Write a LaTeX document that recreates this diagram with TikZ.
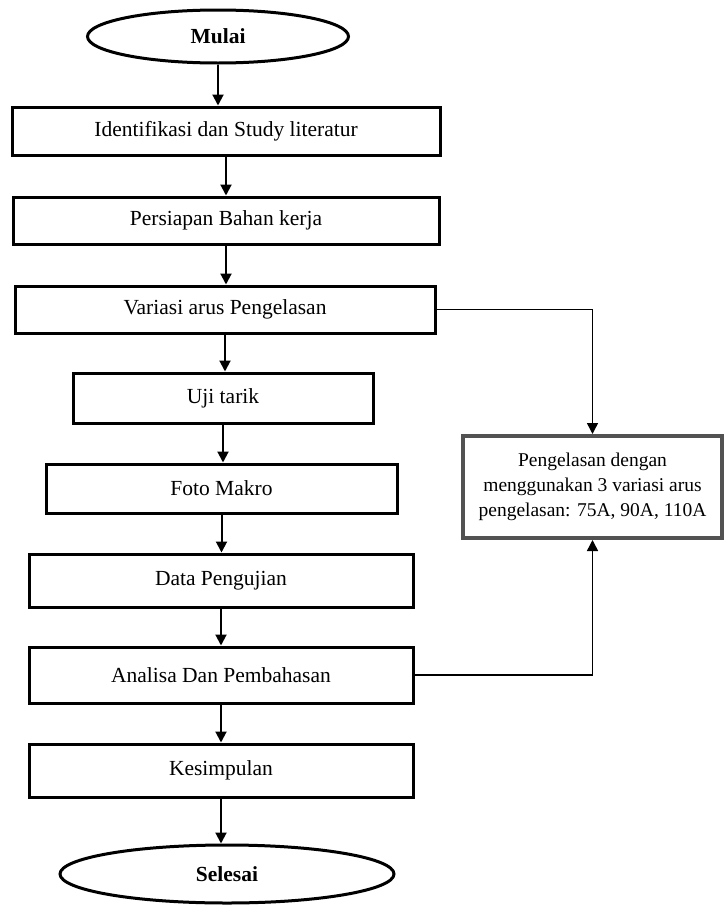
\documentclass[tikz,border=0pt]{standalone}
\usepackage{fontspec}
\setmainfont{Liberation Serif}
\usetikzlibrary{arrows.meta,shapes.geometric}
\begin{document}
\begin{tikzpicture}[x=1pt,y=-1pt,
  stepbox/.style={draw=black,line width=3pt,rectangle,inner sep=0pt,font=\fontsize{21.5}{26}\selectfont},
  term/.style={draw=black,line width=3pt,ellipse,inner sep=0pt,font=\fontsize{21.5}{26}\selectfont\bfseries},
  notebox/.style={draw=black!68,line width=4pt,rectangle,inner sep=0pt,align=center,font=\fontsize{19.5}{25}\selectfont},
  arr/.style={line width=2pt,-{Triangle[length=11pt,width=11pt]}},
  side/.style={line width=1.5pt,-{Triangle[length=11pt,width=11pt]}}]
\useasboundingbox (0,0) rectangle (725,905);
\node[term,minimum width=261pt,minimum height=53pt] (start) at (218,36.5) {Mulai};
\node[stepbox,minimum width=428pt,minimum height=48pt] (b1) at (226,131) {Identifikasi dan Study literatur};
\node[stepbox,minimum width=426pt,minimum height=47pt] (b2) at (226,220.5) {Persiapan Bahan kerja};
\node[stepbox,minimum width=420pt,minimum height=47pt] (b3) at (225,309.5) {Variasi arus Pengelasan};
\node[stepbox,minimum width=300pt,minimum height=50pt] (b4) at (223,398) {Uji tarik};
\node[stepbox,minimum width=351pt,minimum height=49pt] (b5) at (221.5,488.5) {Foto Makro};
\node[stepbox,minimum width=384pt,minimum height=53pt] (b6) at (221,580.5) {Data Pengujian};
\node[stepbox,minimum width=384pt,minimum height=56pt] (b7) at (221,675) {Analisa Dan Pembahasan};
\node[stepbox,minimum width=384pt,minimum height=53pt] (b8) at (221,770.5) {Kesimpulan};
\node[term,minimum width=334pt,minimum height=58pt] (end) at (227,874) {Selesai};
\node[notebox,minimum width=259pt,minimum height=102pt] (rb) at (592.5,487) {Pengelasan dengan\\menggunakan 3 variasi arus\\pengelasan: 75A, 90A, 110A};
\draw[arr] (start.south) -- (start.south |- b1.north);
\draw[arr] (b1.south) -- (b1.south |- b2.north);
\draw[arr] (b2.south) -- (b2.south |- b3.north);
\draw[arr] (b3.south) -- (b3.south |- b4.north);
\draw[arr] (b4.south) -- (b4.south |- b5.north);
\draw[arr] (b5.south) -- (b5.south |- b6.north);
\draw[arr] (b6.south) -- (b6.south |- b7.north);
\draw[arr] (b7.south) -- (b7.south |- b8.north);
\draw[arr] (b8.south) -- (b8.south |- end.north);
\draw[side] (b3.east) -| (rb.north);
\draw[side] (b7.east) -| (rb.south);
\end{tikzpicture}
\end{document}
